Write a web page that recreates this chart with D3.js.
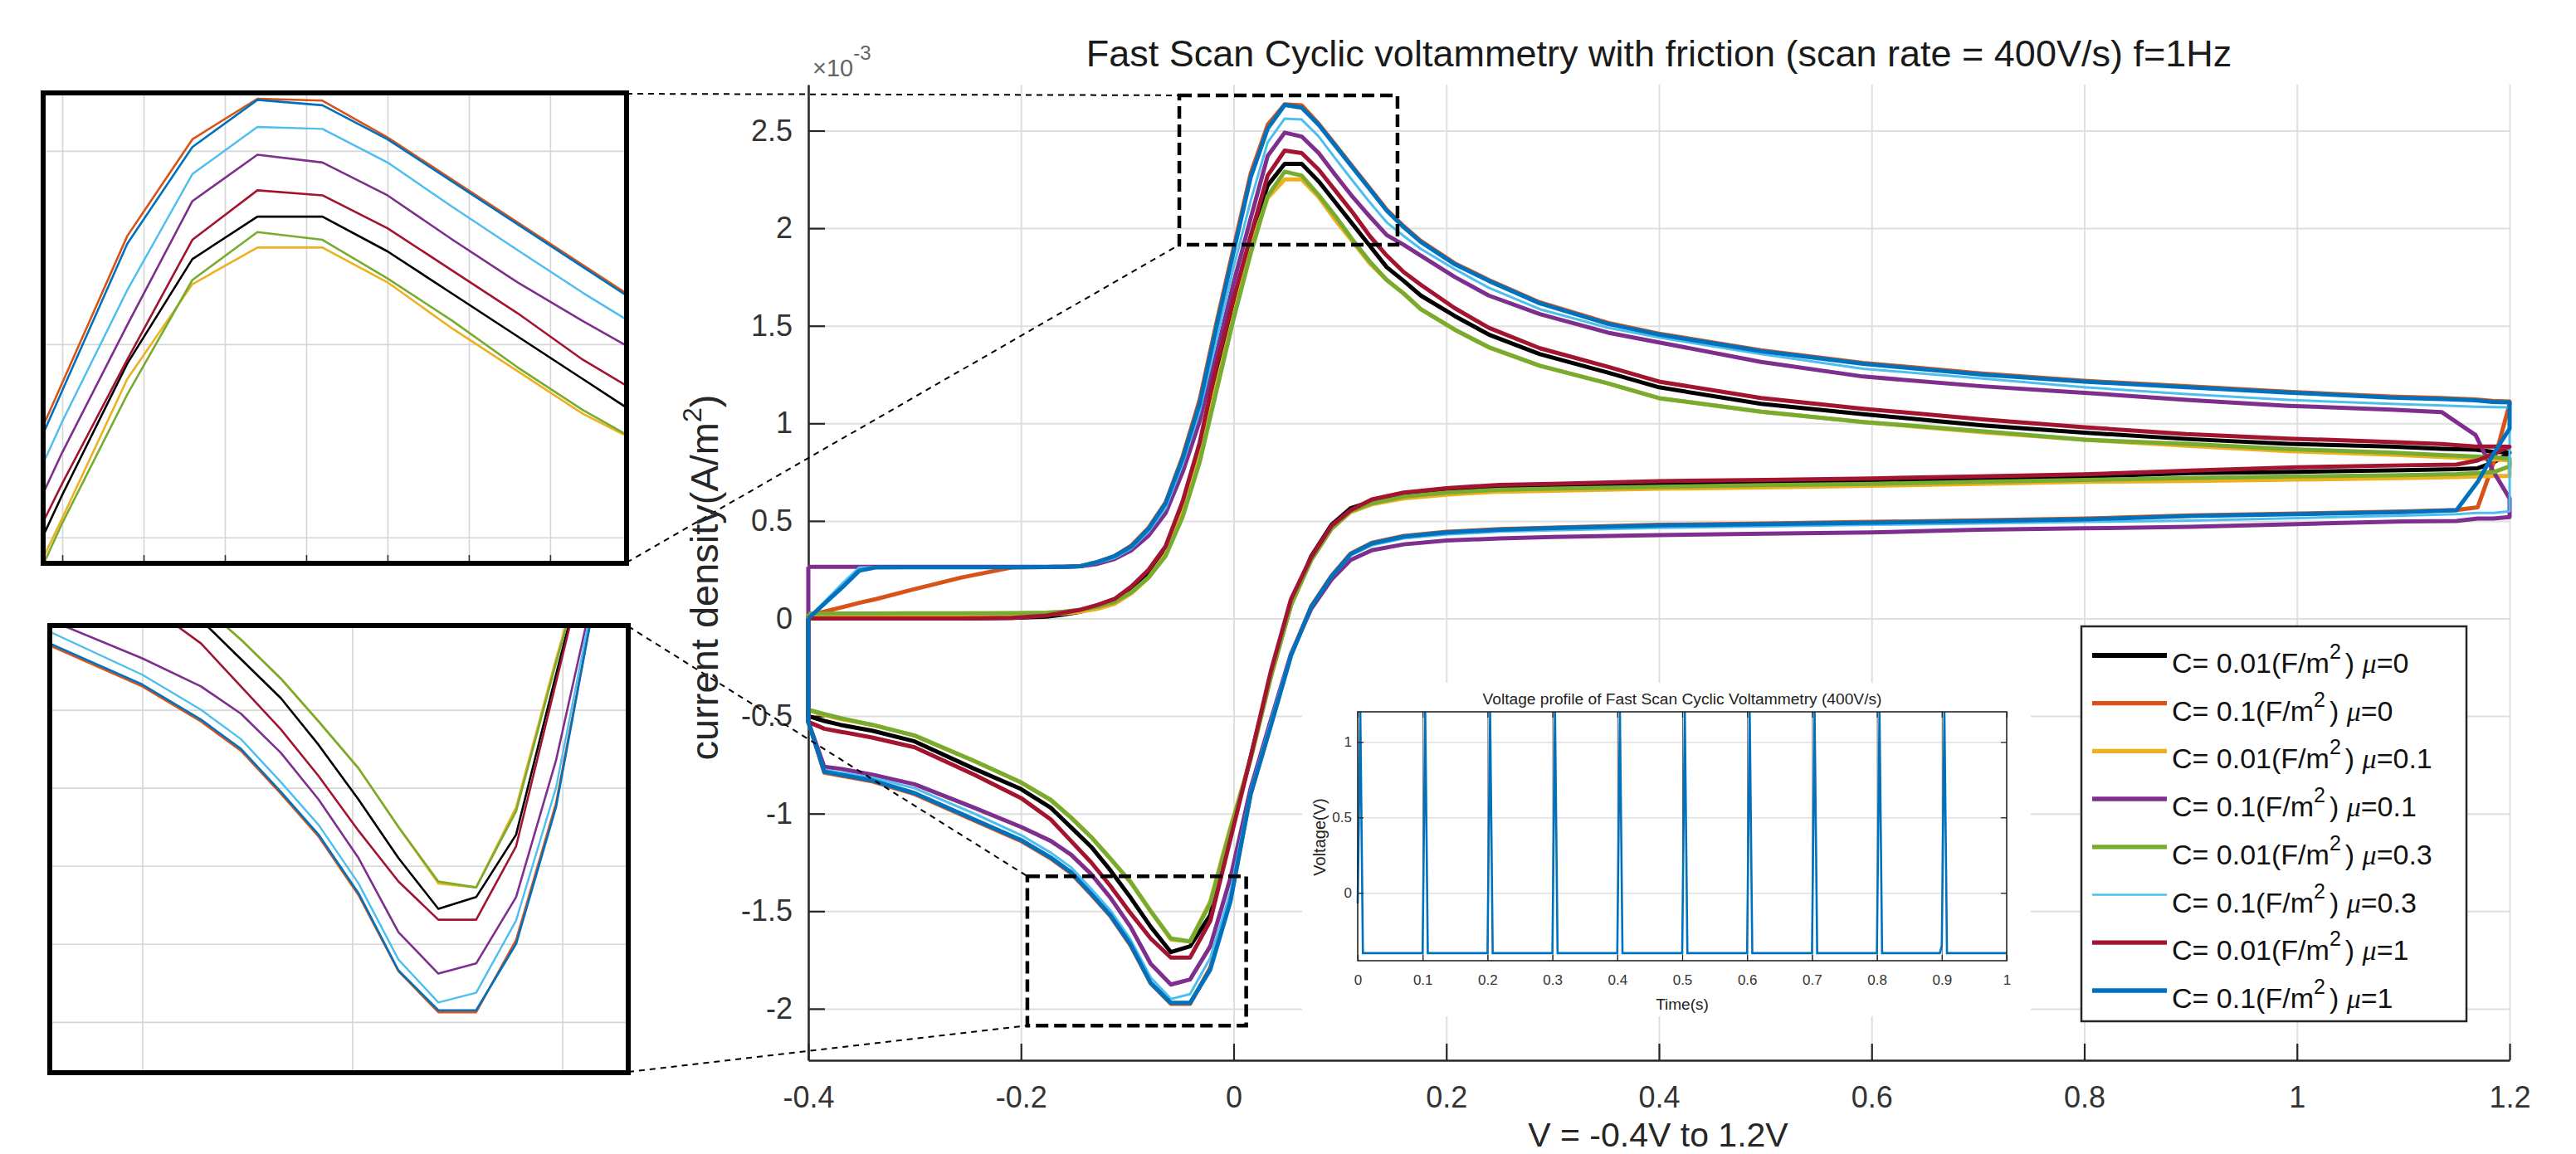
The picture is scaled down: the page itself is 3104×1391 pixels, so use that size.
<!DOCTYPE html>
<html>
<head>
<meta charset="utf-8">
<script src="https://cdn.jsdelivr.net/npm/d3@7/dist/d3.min.js"></script>
<style>
html,body{margin:0;padding:0;background:#fff;}
svg{display:block;}
</style>
</head>
<body>
<svg id="chart" width="3104" height="1391" xmlns="http://www.w3.org/2000/svg"></svg>
<script>
// ================= DATA =================
const seriesNames = ["C=0.01 mu=0","C=0.1 mu=0","C=0.01 mu=0.1","C=0.1 mu=0.1","C=0.01 mu=0.3","C=0.1 mu=0.3","C=0.01 mu=1","C=0.1 mu=1"];
const legendC  = ["0.01","0.1","0.01","0.1","0.01","0.1","0.01","0.1"];
const legendMu = ["0","0","0.1","0.1","0.3","0.3","1","1"];

// forward scan potentials (V)
const fwdV = [-0.4,-0.384,-0.368,-0.352,-0.336, -0.304,-0.256,-0.208,-0.176,-0.16, -0.144,-0.128,-0.112,-0.096,-0.08,
  -0.064,-0.048,-0.032,-0.016,0, 0.016,0.032,0.048,0.064,0.08, 0.096,0.112,0.128,0.144,0.16,
  0.176,0.208,0.24,0.288,0.352, 0.4,0.496,0.592,0.704,0.8, 0.896,0.992,1.088,1.136,1.168, 1.184,1.2];
// reverse scan potentials (V)
const revV = [1.2,1.185,1.17,1.15,1.1, 1.0,0.9,0.8,0.7,0.6, 0.5,0.4,0.3,0.25,0.2, 0.16,0.13,0.11,0.092,0.073,
  0.054,0.035,0.016,-0.003,-0.022, -0.041,-0.059,-0.078,-0.097,-0.116, -0.134,-0.153,-0.172,-0.2,-0.244, -0.3,-0.34,-0.37,-0.385,-0.4];

// current density (x1e-3 A/m^2), forward scan
const fwdBlack  = [0,0,0,0,0, 0,0,0.003,0.01,0.02, 0.035,0.06,0.09,0.15,0.23, 0.35,0.56,0.87,1.25,1.61, 1.95,2.22,2.33,2.33,2.24, 2.13,2.02,1.91,1.80,1.73, 1.655,1.55,1.455,1.355,1.26, 1.185,1.10,1.047,0.99,0.952, 0.92,0.895,0.881,0.87,0.865, 0.855,0.85];
const fwdOrange = [0.015,0.037,0.058,0.08,0.10, 0.145,0.21,0.262,0.264,0.265, 0.268,0.29,0.32,0.375,0.465, 0.595,0.83,1.12,1.52,1.90, 2.28,2.53,2.635,2.63,2.535, 2.425,2.315,2.205,2.095,2.01, 1.935,1.82,1.735,1.62,1.515, 1.46,1.375,1.31,1.255,1.218, 1.19,1.162,1.137,1.13,1.123, 1.115,1.112];
const fwdYellow = [0.012,0.012,0.012,0.012,0.012, 0.012,0.013,0.015,0.02,0.025, 0.035,0.05,0.075,0.13,0.21, 0.33,0.54,0.83,1.20,1.55, 1.91,2.155,2.25,2.25,2.16, 2.04,1.93,1.82,1.735,1.665, 1.585,1.48,1.39,1.295,1.205, 1.129,1.06,1.007,0.955,0.916, 0.885,0.858,0.84,0.828,0.82, 0.816,0.81];
const fwdPurple = [0.265,0.265,0.265,0.265,0.265, 0.265,0.265,0.265,0.265,0.265, 0.268,0.28,0.305,0.35,0.425, 0.54,0.75,1.01,1.36,1.72, 2.05,2.37,2.49,2.47,2.385, 2.27,2.16,2.06,1.965,1.915, 1.86,1.75,1.655,1.56,1.465, 1.415,1.315,1.24,1.19,1.157, 1.12,1.09,1.07,1.058,0.94, 0.76,0.615];
const fwdGreen  = [0.025,0.025,0.026,0.026,0.026, 0.027,0.027,0.028,0.03,0.035, 0.045,0.06,0.085,0.135,0.21, 0.32,0.52,0.80,1.17,1.537, 1.87,2.166,2.29,2.27,2.17, 2.06,1.94,1.83,1.735,1.665, 1.585,1.48,1.39,1.295,1.205, 1.129,1.06,1.007,0.96,0.916, 0.895,0.868,0.85,0.838,0.83, 0.826,0.82];
const fwdLBlue  = [0,0.09,0.18,0.262,0.263, 0.263,0.263,0.263,0.263,0.263, 0.266,0.285,0.31,0.36,0.445, 0.565,0.79,1.06,1.43,1.80, 2.14,2.44,2.562,2.557,2.47, 2.355,2.243,2.133,2.03,1.96, 1.894,1.79,1.695,1.585,1.49, 1.44,1.355,1.28,1.23,1.185, 1.15,1.12,1.10,1.092,1.085, 1.083,1.082];
const fwdRed    = [0,0,0,0,0, 0,0,0.003,0.015,0.03, 0.045,0.07,0.10,0.165,0.25, 0.37,0.60,0.90,1.30,1.64, 1.96,2.27,2.398,2.385,2.30, 2.19,2.08,1.96,1.86,1.775, 1.71,1.59,1.49,1.385,1.29, 1.214,1.13,1.075,1.02,0.98, 0.945,0.922,0.905,0.894,0.881, 0.881,0.88];
const fwdBlue   = [0,0.08,0.16,0.245,0.262, 0.263,0.263,0.263,0.264,0.265, 0.268,0.29,0.32,0.37,0.46, 0.59,0.82,1.10,1.50,1.88, 2.26,2.51,2.632,2.618,2.53, 2.42,2.31,2.20,2.09,2.005, 1.93,1.815,1.73,1.615,1.51, 1.455,1.37,1.305,1.25,1.214, 1.185,1.158,1.132,1.125,1.118, 1.11,1.108];

// current density (x1e-3 A/m^2), reverse scan
const revBlack  = [0.85,0.80,0.77,0.765,0.76, 0.752,0.745,0.728,0.715,0.705, 0.697,0.69,0.68,0.675,0.658, 0.64,0.60,0.565,0.48,0.32, 0.07,-0.29,-0.71,-1.11,-1.52, -1.68,-1.71,-1.58,-1.43,-1.29, -1.17,-1.07,-0.97,-0.874,-0.77, -0.63,-0.575,-0.545,-0.525,-0.50];
const revOrange = [1.10,0.80,0.57,0.556,0.548, 0.538,0.528,0.512,0.503,0.495, 0.487,0.48,0.466,0.458,0.444, 0.423,0.388,0.333,0.218,0.063, -0.185,-0.545,-0.90,-1.44,-1.79, -1.975,-1.975,-1.87,-1.675,-1.525, -1.415,-1.305,-1.23,-1.14,-1.035, -0.90,-0.835,-0.805,-0.79,-0.53];
const revYellow = [0.73,0.73,0.728,0.725,0.72, 0.712,0.705,0.70,0.69,0.68, 0.672,0.665,0.655,0.65,0.635, 0.615,0.585,0.545,0.46,0.30, 0.07,-0.30,-0.72,-1.07,-1.45, -1.655,-1.645,-1.50,-1.35,-1.23, -1.12,-1.02,-0.93,-0.84,-0.73, -0.60,-0.545,-0.515,-0.495,-0.47];
const revPurple = [0.52,0.512,0.512,0.50,0.497, 0.484,0.47,0.462,0.455,0.441, 0.435,0.427,0.418,0.41,0.40, 0.38,0.35,0.30,0.20,0.05, -0.18,-0.52,-0.87,-1.33,-1.68, -1.85,-1.876,-1.77,-1.58,-1.43, -1.31,-1.21,-1.14,-1.068,-0.97, -0.85,-0.80,-0.77,-0.76,-0.53];
const revGreen  = [0.78,0.75,0.745,0.74,0.735, 0.728,0.72,0.71,0.70,0.69, 0.683,0.675,0.665,0.66,0.645, 0.625,0.59,0.55,0.46,0.30, 0.07,-0.30,-0.72,-1.08,-1.46, -1.655,-1.64,-1.50,-1.35,-1.23, -1.12,-1.02,-0.93,-0.84,-0.73, -0.60,-0.545,-0.51,-0.49,-0.467];
const revLBlue  = [0.55,0.541,0.541,0.535,0.527, 0.515,0.502,0.495,0.487,0.48, 0.472,0.465,0.452,0.445,0.43, 0.41,0.375,0.322,0.21,0.06, -0.175,-0.525,-0.88,-1.40,-1.74, -1.925,-1.95,-1.84,-1.645,-1.495, -1.385,-1.275,-1.20,-1.11,-1.00, -0.87,-0.815,-0.79,-0.775,-0.53];
const revRed    = [0.88,0.845,0.81,0.789,0.785, 0.775,0.758,0.739,0.728,0.718, 0.71,0.704,0.69,0.685,0.668, 0.645,0.61,0.555,0.475,0.315, 0.10,-0.27,-0.71,-1.13,-1.55, -1.738,-1.738,-1.64,-1.51,-1.37, -1.25,-1.14,-1.03,-0.92,-0.80, -0.66,-0.61,-0.58,-0.565,-0.53];
const revBlue   = [0.973,0.845,0.70,0.555,0.545, 0.535,0.525,0.508,0.50,0.491, 0.484,0.477,0.463,0.455,0.441, 0.42,0.385,0.33,0.215,0.06, -0.19,-0.55,-0.90,-1.45,-1.80, -1.97,-1.97,-1.868,-1.67,-1.52, -1.41,-1.30,-1.225,-1.135,-1.03, -0.895,-0.83,-0.80,-0.785,-0.53];

// tick values / labels
const xTicks = [-0.4,-0.2,0,0.2,0.4,0.6,0.8,1,1.2];
const yTicks = [-2,-1.5,-1,-0.5,0,0.5,1,1.5,2,2.5];
const panel1XGrid = [0,0.02,0.04,0.06,0.08,0.1,0.12];
const panel1YGrid = [1.5,2,2.5];
const panel2XGrid = [-0.2,-0.1,0];
const panel2YGrid = [-2,-1.8,-1.6,-1.4,-1.2];

// inset: voltage profile (time s, voltage V)
const invT = [0,0.004,0.008, 0.1,0.104,0.108, 0.2,0.204,0.208, 0.3,0.304,0.308, 0.4,0.404,0.408, 0.5,0.504,0.508, 0.6,0.604,0.608, 0.7,0.704,0.708, 0.8,0.804,0.808, 0.897,0.9,0.904,0.908, 1.0];
const invV = [-0.07,1.2,-0.4, -0.4,1.2,-0.4, -0.4,1.2,-0.4, -0.4,1.2,-0.4, -0.4,1.2,-0.4, -0.4,1.2,-0.4, -0.4,1.2,-0.4, -0.4,1.2,-0.4, -0.4,1.2,-0.4, -0.4,-0.35,1.2,-0.4, -0.4];
const insetXTicks = [0,0.1,0.2,0.3,0.4,0.5,0.6,0.7,0.8,0.9,1];
const insetYTicks = [0,0.5,1];

// styles
const seriesColors = ["#000000","#D95319","#EDB120","#7E2F8E","#77AC30","#4DBEEE","#A2142F","#0072BD"];
const mainWidths   = [5,5,5,5,5,3,5,5];
const panelWidths  = [2.6,2.6,2.6,2.6,2.6,2.4,2.6,2.6];
const legendWidths = [6,5.3,5.3,5.5,5.3,2.7,5.3,5.5];

const fwdList = [fwdBlack,fwdOrange,fwdYellow,fwdPurple,fwdGreen,fwdLBlue,fwdRed,fwdBlue];
const revList = [revBlack,revOrange,revYellow,revPurple,revGreen,revLBlue,revRed,revBlue];
const series = seriesNames.map((n,i)=>({name:n, fwd:fwdList[i], rev:revList[i], color:seriesColors[i]}));

// ================= DRAW =================
const FONT = '"Liberation Sans", Arial, Helvetica, sans-serif';
const AX = "#262626";
const svg = d3.select("#chart").style("font-family", FONT);
svg.append("rect").attr("width",3104).attr("height",1391).attr("fill","#fff");

function loopPoints(s){
  const pts = fwdV.map((v,i)=>[v, s.fwd[i]]);
  revV.forEach((v,i)=>pts.push([v, s.rev[i]]));
  pts.push([fwdV[0], s.fwd[0]]);
  return pts;
}

// ---- main axes ----
const X0 = 974, X1 = 3024, Y0 = 102, Y1 = 1278;
const mx = d3.scaleLinear().domain([-0.4,1.2]).range([X0,X1]);
const my = d3.scaleLinear().domain([-2.264,2.736]).range([Y1,Y0]);

const grid = svg.append("g");
grid.append("g").attr("transform",`translate(0,${Y1})`)
  .call(d3.axisBottom(mx).tickValues(xTicks).tickSize(-(Y1-Y0)).tickFormat(""))
  .call(g=>{g.select(".domain").remove(); g.selectAll("line").attr("stroke","#dfdfdf").attr("stroke-width",2);});
grid.append("g").attr("transform",`translate(${X0},0)`)
  .call(d3.axisLeft(my).tickValues(yTicks).tickSize(-(X1-X0)).tickFormat(""))
  .call(g=>{g.select(".domain").remove(); g.selectAll("line").attr("stroke","#dfdfdf").attr("stroke-width",2);});

const fmt = d => String(d);
const yAxis = svg.append("g").attr("transform",`translate(${X0},0)`)
  .call(d3.axisLeft(my).tickValues(yTicks).tickSizeInner(-20).tickSizeOuter(0).tickPadding(19).tickFormat(fmt));
const xAxis = svg.append("g").attr("transform",`translate(0,${Y1})`)
  .call(d3.axisBottom(mx).tickValues(xTicks).tickSizeInner(-20).tickSizeOuter(0).tickPadding(31).tickFormat(fmt));
[yAxis,xAxis].forEach(a=>{
  a.attr("font-family",FONT).attr("font-size",36);
  a.select(".domain").attr("stroke",AX).attr("stroke-width",2.5);
  a.selectAll(".tick line").attr("stroke",AX).attr("stroke-width",2.2);
  a.selectAll(".tick text").attr("fill","#333");
});

// main data
const mline = d3.line().x(d=>mx(d[0])).y(d=>my(d[1]));
const dataG = svg.append("g");
series.forEach((s,i)=>{
  dataG.append("path").datum(loopPoints(s)).attr("d",mline)
    .attr("fill","none").attr("stroke",s.color).attr("stroke-width",mainWidths[i])
    .attr("stroke-linejoin","round");
});

// ---- zoom boxes (data coords) ----
const box1 = {v0:-0.0511, v1:0.1541, i0:1.915, i1:2.681};
const box2 = {v0:-0.194, v1:0.0118, i0:-2.086, i1:-1.321};
[box1,box2].forEach(b=>{
  svg.append("rect").attr("x",mx(b.v0)).attr("y",my(b.i1))
    .attr("width",mx(b.v1)-mx(b.v0)).attr("height",my(b.i0)-my(b.i1))
    .attr("fill","none").attr("stroke","#000").attr("stroke-width",4.5)
    .attr("stroke-dasharray","15 7");
});

// ---- zoom panels ----
const p1 = {x0:52, x1:755, y0:112, y1:679, xd:[-0.0047,0.1388], yd:[1.433,2.65], xg:panel1XGrid, yg:panel1YGrid, ticks:true};
const p2 = {x0:60, x1:757, y0:754, y1:1293, xd:[-0.244,0.0314], yd:[-2.13,-0.984], xg:panel2XGrid, yg:panel2YGrid, ticks:false};

// connectors
const conn = svg.append("g").attr("stroke","#000").attr("stroke-width",2).attr("stroke-dasharray","7 6").attr("fill","none");
[[p1,box1],[p2,box2]].forEach(([p,b])=>{
  conn.append("line").attr("x1",p.x1).attr("y1",p.y0+1).attr("x2",mx(b.v0)).attr("y2",my(b.i1));
  conn.append("line").attr("x1",p.x1).attr("y1",p.y1-1).attr("x2",mx(b.v0)).attr("y2",my(b.i0));
});

[p1,p2].forEach((p,k)=>{
  const px = d3.scaleLinear().domain(p.xd).range([p.x0,p.x1]);
  const py = d3.scaleLinear().domain(p.yd).range([p.y1,p.y0]);
  const id = "clipP"+k;
  svg.append("clipPath").attr("id",id).append("rect").attr("x",p.x0).attr("y",p.y0).attr("width",p.x1-p.x0).attr("height",p.y1-p.y0);
  const g = svg.append("g");
  g.append("rect").attr("x",p.x0).attr("y",p.y0).attr("width",p.x1-p.x0).attr("height",p.y1-p.y0).attr("fill","#fff");
  g.append("g").attr("transform",`translate(0,${p.y1})`)
    .call(d3.axisBottom(px).tickValues(p.xg).tickSize(-(p.y1-p.y0)).tickFormat(""))
    .call(a=>{a.select(".domain").remove(); a.selectAll("line").attr("stroke","#d6d6d6").attr("stroke-width",1.6);});
  g.append("g").attr("transform",`translate(${p.x0},0)`)
    .call(d3.axisLeft(py).tickValues(p.yg).tickSize(-(p.x1-p.x0)).tickFormat(""))
    .call(a=>{a.select(".domain").remove(); a.selectAll("line").attr("stroke","#d6d6d6").attr("stroke-width",1.6);});
  if(p.ticks){
    g.append("g").attr("transform",`translate(0,${p.y1})`)
      .call(d3.axisBottom(px).tickValues(p.xg).tickSizeInner(-10).tickSizeOuter(0).tickFormat(""))
      .call(a=>{a.select(".domain").remove(); a.selectAll("line").attr("stroke","#333").attr("stroke-width",1.6);});
  }
  const pl = d3.line().x(d=>px(d[0])).y(d=>py(d[1]));
  const dg = g.append("g").attr("clip-path",`url(#${id})`);
  series.forEach((s,i)=>{
    dg.append("path").datum(loopPoints(s)).attr("d",pl).attr("fill","none")
      .attr("stroke",s.color).attr("stroke-width",panelWidths[i]).attr("stroke-linejoin","round");
  });
  g.append("rect").attr("x",p.x0).attr("y",p.y0).attr("width",p.x1-p.x0).attr("height",p.y1-p.y0)
    .attr("fill","none").attr("stroke","#000").attr("stroke-width",6);
});

// ---- inset: voltage profile ----
const ix = d3.scaleLinear().domain([0,1]).range([1636,2418]);
const iy = d3.scaleLinear().domain([-0.45,1.2]).range([1158,858]);
const ins = svg.append("g");
ins.append("rect").attr("x",1569).attr("y",823).attr("width",878).attr("height",402).attr("fill","#fff");
ins.append("g").attr("transform","translate(1636,0)")
  .call(d3.axisLeft(iy).tickValues(insetYTicks).tickSize(-782).tickFormat(""))
  .call(a=>{a.select(".domain").remove(); a.selectAll("line").attr("stroke","#e0e0e0").attr("stroke-width",1.5);});
ins.append("g").attr("transform","translate(0,1158)")
  .call(d3.axisBottom(ix).tickValues(insetXTicks.slice(1,-1)).tickSize(-300).tickFormat(""))
  .call(a=>{a.select(".domain").remove(); a.selectAll("line").attr("stroke","#666").attr("stroke-width",1);});
ins.append("path").datum(invT.map((t,i)=>[t,invV[i]]))
  .attr("d",d3.line().x(d=>ix(d[0])).y(d=>iy(d[1])))
  .attr("fill","none").attr("stroke","#0072BD").attr("stroke-width",2.6);
ins.append("rect").attr("x",1636).attr("y",858).attr("width",782).attr("height",300)
  .attr("fill","none").attr("stroke",AX).attr("stroke-width",1.6);
const iL = ins.append("g").attr("transform","translate(1636,0)")
  .call(d3.axisLeft(iy).tickValues(insetYTicks).tickSizeInner(-7).tickSizeOuter(0).tickPadding(7).tickFormat(fmt));
const iR = ins.append("g").attr("transform","translate(2418,0)")
  .call(d3.axisRight(iy).tickValues(insetYTicks).tickSizeInner(-7).tickSizeOuter(0).tickFormat(""));
const iB = ins.append("g").attr("transform","translate(0,1158)")
  .call(d3.axisBottom(ix).tickValues(insetXTicks).tickSizeInner(-7).tickSizeOuter(0).tickPadding(17).tickFormat(fmt));
const iT = ins.append("g").attr("transform","translate(0,858)")
  .call(d3.axisTop(ix).tickValues(insetXTicks).tickSizeInner(-7).tickSizeOuter(0).tickFormat(""));
[iL,iR,iB,iT].forEach(a=>{
  a.attr("font-family",FONT).attr("font-size",17);
  a.select(".domain").remove();
  a.selectAll(".tick line").attr("stroke",AX).attr("stroke-width",1.3);
  a.selectAll(".tick text").attr("fill","#333");
});
ins.append("text").attr("x",2027).attr("y",849).attr("text-anchor","middle").attr("font-size",19.2).attr("fill","#222")
  .text("Voltage profile of Fast Scan Cyclic Voltammetry (400V/s)");
ins.append("text").attr("x",2027).attr("y",1217).attr("text-anchor","middle").attr("font-size",19).attr("fill","#222").text("Time(s)");
ins.append("text").attr("transform","translate(1597,1009) rotate(-90)").attr("text-anchor","middle").attr("font-size",20).attr("fill","#222").text("Voltage(V)");

// ---- legend ----
const lg = svg.append("g");
lg.append("rect").attr("x",2508).attr("y",755).attr("width",464).attr("height",476)
  .attr("fill","#fff").attr("stroke",AX).attr("stroke-width",2.5);
series.forEach((s,i)=>{
  const yy = 790 + i*57.7;
  lg.append("line").attr("x1",2521).attr("x2",2611).attr("y1",yy).attr("y2",yy)
    .attr("stroke",s.color).attr("stroke-width",legendWidths[i]);
  const t = lg.append("text").attr("x",2617).attr("y",yy+21).attr("font-size",34).attr("fill","#111");
  t.append("tspan").text(`C= ${legendC[i]}(F/m`);
  t.append("tspan").attr("font-size",25).attr("dy",-17).text("2");
  t.append("tspan").attr("dy",17).attr("dx",5).text(")");
  t.append("tspan").text(" ");
  t.append("tspan").attr("font-style","italic").attr("font-family",'"Liberation Serif", serif').text("\u03bc");
  t.append("tspan").text(`=${legendMu[i]}`);
});

// ---- titles & labels ----
svg.append("text").attr("x",1999).attr("y",80).attr("text-anchor","middle").attr("font-size",45).attr("fill","#1a1a1a")
  .text("Fast Scan Cyclic voltammetry with friction (scan rate = 400V/s) f=1Hz");
const ex = svg.append("text").attr("x",979).attr("y",92).attr("font-size",29).attr("fill","#666");
ex.append("tspan").text("\u00d710");
ex.append("tspan").attr("font-size",24).attr("dy",-20).text("-3");
const yl = svg.append("text").attr("transform","translate(865,696) rotate(-90)").attr("text-anchor","middle").attr("font-size",47).attr("fill","#262626");
yl.append("tspan").text("current density(A/m");
yl.append("tspan").attr("font-size",32).attr("dy",-20).text("2");
yl.append("tspan").attr("dy",20).text(")");
svg.append("text").attr("x",1998).attr("y",1382).attr("text-anchor","middle").attr("font-size",41).attr("fill","#262626")
  .text("V = -0.4V to 1.2V");
</script>
</body>
</html>
